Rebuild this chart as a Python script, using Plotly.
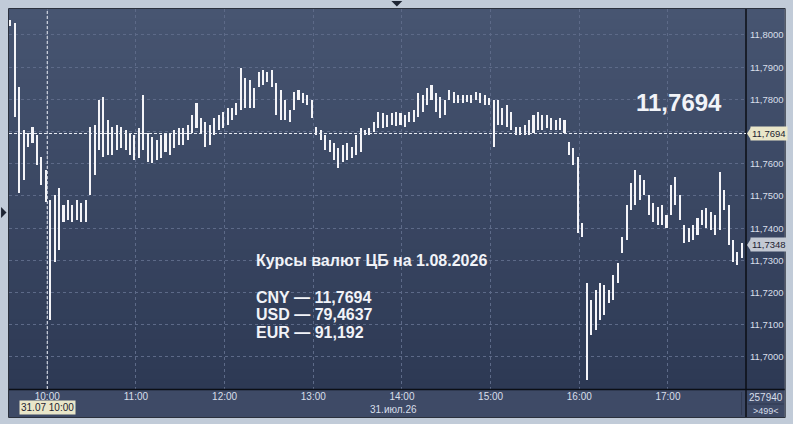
import plotly.graph_objects as go
from datetime import datetime, timedelta

# ---- data (3-minute high/low bars, CNY/RUB, 31.07.26) ----
bar_start = "2026-07-31 09:35"
bar_step_min = 3
highs = [
    11.8047, 11.8037, 11.7839, 11.7705, 11.7696, 11.7714, 11.7689, 11.7621, 11.7581, 11.7488,
    11.7503, 11.7525, 11.7472, 11.7488, 11.7472, 11.7488, 11.7478, 11.7488, 11.7714, 11.7720,
    11.7798, 11.7807, 11.7736, 11.7714, 11.7720, 11.7714, 11.7705, 11.7696, 11.7689, 11.7711,
    11.7814, 11.7696, 11.7683, 11.7674, 11.7689, 11.7696, 11.7696, 11.7705, 11.7711, 11.7711,
    11.7720, 11.7752, 11.7789, 11.7742, 11.7730, 11.7720, 11.7742, 11.7752, 11.7761, 11.7773,
    11.7773, 11.7789, 11.7898, 11.7866, 11.7860, 11.7835, 11.7885, 11.7891, 11.7885, 11.7891,
    11.7851, 11.7829, 11.7798, 11.7767, 11.7823, 11.7829, 11.7820, 11.7814, 11.7798, 11.7714,
    11.7705, 11.7689, 11.7674, 11.7665, 11.7649, 11.7658, 11.7665, 11.7652, 11.7689, 11.7711,
    11.7705, 11.7711, 11.7730, 11.7761, 11.7758, 11.7752, 11.7758, 11.7761, 11.7758, 11.7752,
    11.7761, 11.7767, 11.7820, 11.7814, 11.7835, 11.7845, 11.7820, 11.7807, 11.7798, 11.7829,
    11.7823, 11.7814, 11.7814, 11.7814, 11.7814, 11.7823, 11.7820, 11.7814, 11.7804, 11.7798,
    11.7798, 11.7773, 11.7783, 11.7761, 11.7714, 11.7714, 11.7720, 11.7736, 11.7752, 11.7761,
    11.7752, 11.7752, 11.7742, 11.7736, 11.7742, 11.7736, 11.7668, 11.7649, 11.7621, 11.7416,
    11.7230, 11.7177, 11.7208, 11.7230, 11.7224, 11.7208, 11.7255, 11.7292, 11.7373, 11.7472,
    11.7540, 11.7581, 11.7565, 11.7550, 11.7503, 11.7478, 11.7466, 11.7472, 11.7441, 11.7534,
    11.7559, 11.7503, 11.7410, 11.7401, 11.7410, 11.7432, 11.7457, 11.7463, 11.7450, 11.7441,
    11.7575, 11.7519, 11.7472, 11.7363, 11.7326, 11.7354,
]
lows = [
    11.8028, 11.7745, 11.7509, 11.7550, 11.7652, 11.7665, 11.7596, 11.7534, 11.7481, 11.7115,
    11.7295, 11.7332, 11.7419, 11.7425, 11.7419, 11.7425, 11.7419, 11.7419, 11.7503, 11.7565,
    11.7643, 11.7621, 11.7627, 11.7627, 11.7643, 11.7649, 11.7643, 11.7627, 11.7612, 11.7618,
    11.7643, 11.7606, 11.7602, 11.7612, 11.7618, 11.7637, 11.7627, 11.7649, 11.7658, 11.7658,
    11.7674, 11.7696, 11.7711, 11.7696, 11.7652, 11.7658, 11.7689, 11.7705, 11.7711, 11.7720,
    11.7736, 11.7752, 11.7767, 11.7773, 11.7773, 11.7773, 11.7839, 11.7845, 11.7854, 11.7839,
    11.7752, 11.7736, 11.7736, 11.7730, 11.7767, 11.7798, 11.7789, 11.7783, 11.7742, 11.7689,
    11.7674, 11.7643, 11.7637, 11.7612, 11.7587, 11.7606, 11.7612, 11.7618, 11.7627, 11.7637,
    11.7689, 11.7689, 11.7699, 11.7711, 11.7711, 11.7714, 11.7720, 11.7717, 11.7720, 11.7714,
    11.7730, 11.7730, 11.7745, 11.7761, 11.7783, 11.7798, 11.7761, 11.7742, 11.7752, 11.7798,
    11.7789, 11.7789, 11.7789, 11.7792, 11.7789, 11.7798, 11.7789, 11.7783, 11.7783, 11.7652,
    11.7720, 11.7720, 11.7714, 11.7705, 11.7689, 11.7689, 11.7689, 11.7689, 11.7696, 11.7705,
    11.7705, 11.7711, 11.7705, 11.7705, 11.7705, 11.7696, 11.7627, 11.7596, 11.7385, 11.7373,
    11.6929, 11.7068, 11.7084, 11.7115, 11.7130, 11.7168, 11.7177, 11.7230, 11.7323, 11.7363,
    11.7457, 11.7472, 11.7488, 11.7503, 11.7441, 11.7419, 11.7410, 11.7410, 11.7401, 11.7441,
    11.7472, 11.7425, 11.7354, 11.7357, 11.7363, 11.7379, 11.7410, 11.7401, 11.7394, 11.7379,
    11.7394, 11.7457, 11.7348, 11.7295, 11.7286, 11.7307,
]
y_ticks = [11.70, 11.71, 11.72, 11.73, 11.74, 11.75, 11.76, 11.77, 11.78, 11.79, 11.80]
y_tick_text = ["11,7000", "11,7100", "11,7200", "11,7300", "11,7400", "11,7500", "11,7600",
               "", "11,7800", "11,7900", "11,8000"]
last_cny = 11.7694
last_price = 11.7348
cross_time = "2026-07-31 10:00"
title_text = "Курсы валют ЦБ на 1.08.2026"
rate_lines = ["CNY — 11,7694", "USD — 79,4637", "EUR — 91,192"]
big_label = "11,7694"
last_label = "11,7348"
date_label = "31.07 10:00"
day_label = "31.июл.26"
volume_label = "257940"
count_label = ">499<"

t0 = datetime.strptime(bar_start, "%Y-%m-%d %H:%M")
times = [t0 + timedelta(minutes=bar_step_min * i) for i in range(len(highs))]
spans = [h - l for h, l in zip(highs, lows)]

W, H = 793, 424
L, R, T, B = 9, 42, 9, 35
pw, ph = W - L - R, H - T - B


def px(xp):
    return (xp - L) / pw


def py(yp):
    return (H - B - yp) / ph


fig = go.Figure()
fig.add_trace(go.Bar(
    x=times, y=spans, base=lows, width=1.4 * 60000,
    marker=dict(color="#f4f4f8", line=dict(width=0)),
    hoverinfo="skip", showlegend=False,
))

shapes = []
# background gradient of plot + price scale
top_c = (71, 85, 113)
bot_c = (45, 57, 84)
nb = 38
for k in range(nb):
    f = (k + 0.5) / nb
    c = tuple(round(top_c[j] + (bot_c[j] - top_c[j]) * f) for j in range(3))
    shapes.append(dict(type="rect", xref="paper", yref="paper", layer="below",
                       x0=px(9), x1=px(790), y0=py(9 + (k + 1) * 10), y1=py(9 + k * 10),
                       fillcolor="rgb(%d,%d,%d)" % c, line=dict(width=0)))
# bottom time strip
shapes.append(dict(type="rect", xref="paper", yref="paper", layer="below",
                   x0=px(9), x1=px(790), y0=py(417), y1=py(389),
                   fillcolor="#3e4a66", line=dict(width=0)))
# outer dark frame
shapes.append(dict(type="rect", xref="paper", yref="paper", layer="above",
                   x0=px(8.5), x1=px(790.5), y0=py(417.5), y1=py(8.5),
                   fillcolor="rgba(0,0,0,0)", line=dict(color="#2b313d", width=1)))
# separators
shapes.append(dict(type="line", xref="paper", yref="paper", layer="above",
                   x0=px(9), x1=px(790), y0=py(389.5), y1=py(389.5),
                   line=dict(color="#0b0e15", width=1.5)))
shapes.append(dict(type="line", xref="paper", yref="paper", layer="above",
                   x0=px(751), x1=px(751), y0=py(417), y1=py(9),
                   line=dict(color="#0b0e15", width=1.5)))
shapes.append(dict(type="line", xref="paper", yref="paper", layer="above",
                   x0=px(746.5), x1=px(746.5), y0=py(415), y1=py(392),
                   line=dict(color="#323c55", width=1)))
shapes.append(dict(type="line", xref="paper", yref="paper", layer="above",
                   x0=px(753), x1=px(789), y0=py(404), y1=py(404),
                   line=dict(color="#2f3850", width=1)))
# crosshair
shapes.append(dict(type="line", xref="paper", yref="y", layer="above",
                   x0=0, x1=1, y0=last_cny, y1=last_cny,
                   line=dict(color="#e8ecf4", width=1, dash="3px,2px")))
shapes.append(dict(type="line", xref="x", yref="paper", layer="above",
                   x0=cross_time, x1=cross_time, y0=0, y1=1,
                   line=dict(color="#e8ecf4", width=1, dash="3px,2px")))
# label tips on price scale
for val, col in ((last_cny, "#e9e6c9"), (last_price, "#c3c9d3")):
    shapes.append(dict(type="path", xref="paper", yref="y", layer="above",
                       path="M %f,%f L %f,%f L %f,%f Z" % (
                           px(752), val, px(756), val + 0.0019, px(756), val - 0.0019),
                       fillcolor=col, line=dict(width=0)))
# decorative triangles in frame
shapes.append(dict(type="path", xref="paper", yref="paper",
                   path="M %f,%f L %f,%f L %f,%f Z" % (px(394), py(1), px(405), py(1), px(399.5), py(6.5)),
                   fillcolor="#1e2533", line=dict(width=0)))
shapes.append(dict(type="path", xref="paper", yref="paper",
                   path="M %f,%f L %f,%f L %f,%f Z" % (px(1), py(207), px(1), py(218), px(6.5), py(212.5)),
                   fillcolor="#1e2533", line=dict(width=0)))

annotations = []
# price-scale labels
for val, txt, col in ((last_cny, big_label, "#e9e6c9"), (last_price, last_label, "#c3c9d3")):
    annotations.append(dict(xref="paper", yref="y", x=px(755.5), y=val, xanchor="left", yanchor="middle",
                            text=txt, showarrow=False, bgcolor=col, borderpad=1,
                            font=dict(family="Liberation Sans", size=9.5, color="#1c2230")))
# big price
annotations.append(dict(xref="paper", yref="paper", x=px(684), y=py(102), xanchor="center", yanchor="middle",
                        text="<b>%s</b>" % big_label, showarrow=False,
                        font=dict(family="Liberation Sans", size=24, color="#f1f3f8")))
# rates block
annotations.append(dict(xref="paper", yref="paper", x=px(256), y=py(260.5), xanchor="left", yanchor="middle",
                        text="<b>%s</b>" % title_text, showarrow=False,
                        font=dict(family="Liberation Sans", size=16, color="#f1f3f8")))
for k, line in enumerate(rate_lines):
    annotations.append(dict(xref="paper", yref="paper", x=px(256), y=py(297 + 17.8 * k), xanchor="left",
                            yanchor="middle", text="<b>%s</b>" % line, showarrow=False,
                            font=dict(family="Liberation Sans", size=16, color="#f1f3f8")))
# time strip labels
annotations.append(dict(xref="x", yref="paper", x=cross_time, y=py(407.5), xanchor="center", yanchor="middle",
                        text=date_label, showarrow=False, bgcolor="#e9e6c9", borderpad=1,
                        font=dict(family="Liberation Sans", size=10, color="#1c2230")))
annotations.append(dict(xref="paper", yref="paper", x=px(396), y=py(409), xanchor="center", yanchor="middle",
                        text=day_label, showarrow=False,
                        font=dict(family="Liberation Sans", size=10, color="#d8dfea")))
annotations.append(dict(xref="paper", yref="paper", x=px(771), y=py(397), xanchor="center", yanchor="middle",
                        text=volume_label, showarrow=False,
                        font=dict(family="Liberation Sans", size=10, color="#d8dfea")))
annotations.append(dict(xref="paper", yref="paper", x=px(771), y=py(410.5), xanchor="center", yanchor="middle",
                        text=count_label, showarrow=False,
                        font=dict(family="Liberation Sans", size=9, color="#d8dfea")))

fig.update_layout(
    width=W, height=H,
    margin=dict(l=L, r=R, t=T, b=B, pad=0),
    paper_bgcolor="#c1cbd8",
    plot_bgcolor="rgba(0,0,0,0)",
    separators=", ",
    bargap=0,
    showlegend=False,
    shapes=shapes,
    annotations=annotations,
    xaxis=dict(
        type="date",
        range=["2026-07-31 09:34:07", "2026-07-31 17:52:48"],
        tick0="2026-07-31 10:00", dtick=3600000, tickformat="%H:%M",
        showgrid=True, gridcolor="#5d6a88", gridwidth=1, griddash="3px,3px",
        zeroline=False, showline=False, ticks="",
        tickfont=dict(family="Liberation Sans", size=10, color="#d8dfea"),
        fixedrange=True,
    ),
    yaxis=dict(
        side="right",
        range=[11.69006, 11.80807],
        tickvals=y_ticks, ticktext=y_tick_text,
        showgrid=True, gridcolor="#5d6a88", gridwidth=1, griddash="3px,3px",
        zeroline=False, showline=False, ticks="", ticklabelstandoff=3,
        tickfont=dict(family="Liberation Sans", size=9.5, color="#d8dfea"),
        fixedrange=True,
    ),
)

fig.write_html(
    "out.html",
    config={"displayModeBar": False},
    post_script="document.body.style.margin='0';document.body.style.overflow='hidden';",
)
